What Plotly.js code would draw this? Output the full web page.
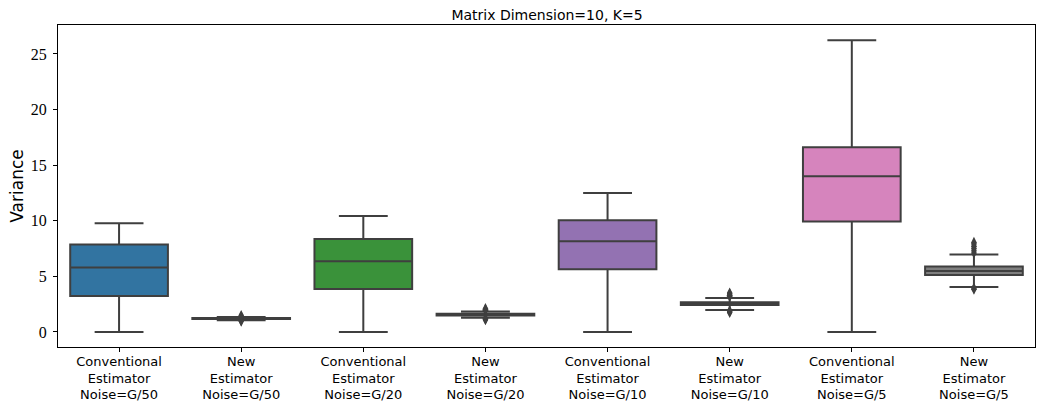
<!DOCTYPE html>
<html>
<head>
<meta charset="utf-8">
<script src="https://cdn.plot.ly/plotly-3.0.1.min.js"></script>
<style>html,body{margin:0;padding:0;background:#fff;}#chart{width:1038px;height:406px;}</style>
</head>
<body>
<div id="chart"></div>
<script>
const categories = [
  "Conventional<br>Estimator<br>Noise=G/50",
  "New<br>Estimator<br>Noise=G/50",
  "Conventional<br>Estimator<br>Noise=G/20",
  "New<br>Estimator<br>Noise=G/20",
  "Conventional<br>Estimator<br>Noise=G/10",
  "New<br>Estimator<br>Noise=G/10",
  "Conventional<br>Estimator<br>Noise=G/5",
  "New<br>Estimator<br>Noise=G/5"
];
const lowerWhisker = [0, 1.05, 0, 1.29, 0, 1.98, 0, 4.05];
const q1Values     = [3.24, 1.16, 3.87, 1.48, 5.64, 2.42, 9.93, 5.12];
const medianValues = [5.79, 1.20, 6.36, 1.57, 8.16, 2.55, 14.0, 5.49];
const q3Values     = [7.86, 1.25, 8.36, 1.65, 10.04, 2.68, 16.61, 5.88];
const upperWhisker = [9.78, 1.35, 10.43, 1.85, 12.5, 3.06, 26.23, 6.96];
const outliers = [
  [],
  [0.98, 1.02, 1.40, 1.48],
  [],
  [1.10, 1.16, 1.22, 1.95, 2.03, 2.10],
  [],
  [1.75, 1.82, 1.90, 3.20, 3.30, 3.42, 3.50],
  [],
  [3.85, 3.95, 7.10, 7.30, 7.50, 7.70, 7.90, 8.05]
];
const boxColors = ["#3274a1", "#e1812c", "#3a923a", "#c03d3e", "#9372b2", "#845b53", "#d684bd", "#7f7f7f"];
const yTicks = [0, 5, 10, 15, 20, 25];

const lineColor = "#3f3f3f";
const traces = [];
categories.forEach((c, i) => {
  traces.push({
    type: "box",
    x: [c],
    q1: [q1Values[i]],
    median: [medianValues[i]],
    q3: [q3Values[i]],
    lowerfence: [lowerWhisker[i]],
    upperfence: [upperWhisker[i]],
    boxpoints: false,
    width: 0.8,
    whiskerwidth: 0.5,
    fillcolor: boxColors[i],
    line: {color: lineColor, width: 2},
    showlegend: false,
    hoverinfo: "skip"
  });
});
categories.forEach((c, i) => {
  if (outliers[i].length) {
    traces.push({
      type: "scatter",
      mode: "markers",
      x: outliers[i].map(() => c),
      y: outliers[i],
      marker: {symbol: "diamond-tall", size: 8, color: lineColor, line: {width: 0}},
      showlegend: false,
      hoverinfo: "skip"
    });
  }
});

const layout = {
  width: 1038,
  height: 406,
  margin: {l: 58, r: 3, t: 25, b: 59},
  paper_bgcolor: "#ffffff",
  plot_bgcolor: "#ffffff",
  font: {family: "Liberation Serif", size: 16, color: "#000"},
  title: {
    text: "Matrix Dimension=10, K=5",
    font: {family: "DejaVu Sans", size: 14, color: "#000"},
    x: 0.527, xanchor: "center", y: 0.963, yanchor: "middle"
  },
  xaxis: {
    type: "category",
    categoryorder: "array",
    categoryarray: categories,
    range: [-0.5, 7.5],
    showline: true, mirror: true, linecolor: "#000", linewidth: 1,
    ticks: "outside", ticklen: 4, tickcolor: "#000",
    ticklabelstandoff: -2,
    showgrid: false, zeroline: false,
    tickfont: {family: "DejaVu Sans", size: 13, color: "#000"}
  },
  yaxis: {
    range: [-1.35, 27.6],
    tickmode: "array",
    tickvals: yTicks,
    ticktext: yTicks.map(String),
    showline: true, mirror: true, linecolor: "#000", linewidth: 1,
    ticks: "outside", ticklen: 4, tickcolor: "#000",
    ticklabelstandoff: 3,
    showgrid: false, zeroline: false,
    tickfont: {family: "Liberation Serif", size: 16, color: "#000"},
    title: {text: "Variance", font: {family: "DejaVu Sans", size: 17, color: "#000"}, standoff: 2}
  }
};

Plotly.newPlot("chart", traces, layout, {displayModeBar: false, staticPlot: true});
</script>
</body>
</html>
